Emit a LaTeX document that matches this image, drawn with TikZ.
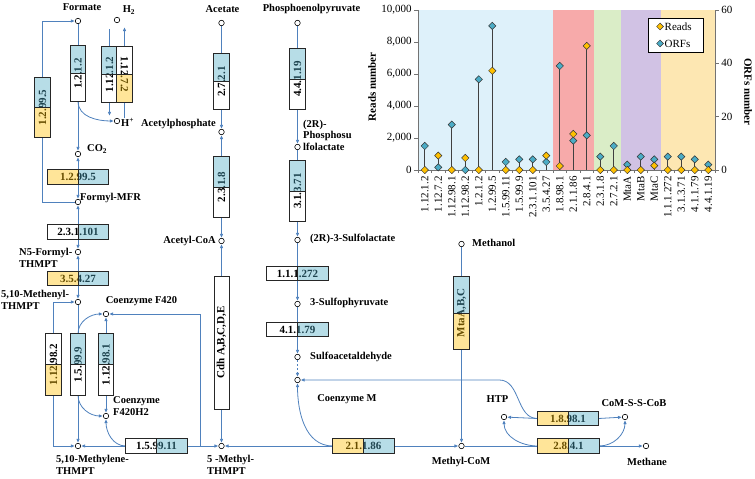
\documentclass[tikz,border=0pt]{standalone}
\usepackage{fontspec}
\setmainfont{Liberation Serif}
\usepackage{tikz}
\usetikzlibrary{arrows.meta, shapes.geometric, calc, positioning, backgrounds}

\definecolor{pathBlue}{RGB}{79,129,189}
\definecolor{enzBlue}{RGB}{75,170,197}
\definecolor{enzYellow}{RGB}{255,192,0}
\definecolor{readGold}{RGB}{255,192,0}
\definecolor{orfTeal}{RGB}{75,172,198}
\definecolor{bandBlue}{RGB}{222,241,250}
\definecolor{bandRed}{RGB}{247,170,170}
\definecolor{bandGreen}{RGB}{218,237,199}
\definecolor{bandPurple}{RGB}{209,194,228}
\definecolor{bandOrange}{RGB}{253,231,178}

\newcommand{\metfont}{\fontsize{10.5}{12.5}\selectfont\bfseries}
\newcommand{\enzfont}{\fontsize{11}{13}\selectfont\bfseries}
\newcommand{\chartfont}{\fontsize{11}{13}\selectfont}

\tikzset{
    met/.style={circle, draw, fill=white, inner sep=0pt, minimum size=5.5pt, line width=0.6pt},
    flow/.style={->, >={Latex[length=4pt, width=3.5pt]}, draw=pathBlue, line width=0.8pt},
    flowBoth/.style={<->, >={Latex[length=4pt, width=3.5pt]}, draw=pathBlue, line width=0.8pt},
    link/.style={draw=pathBlue, line width=0.8pt},
    enzFrame/.style={draw=black!85, line width=0.7pt},
    hShape/.style={rectangle, inner sep=0pt, minimum width=61pt, minimum height=14pt, fill=white, font=\enzfont},
    vShape/.style={rectangle, inner sep=0pt, minimum width=15pt, fill=white},
    blueHalf/.style={fill=enzBlue, fill opacity=0.4},
    yellowHalf/.style={fill=enzYellow, fill opacity=0.4},
    whiteHalf/.style={},
    metLabel/.style={font=\metfont, inner sep=0pt},
    axis/.style={draw=black!55, line width=0.7pt},
    stem/.style={draw=black!75, line width=0.7pt},
    readMark/.style={diamond, draw=black!80, fill=readGold, inner sep=0pt, minimum size=7.5pt, line width=0.5pt},
    orfMark/.style={diamond, draw=black!80, fill=orfTeal, inner sep=0pt, minimum size=7.5pt, line width=0.5pt},
    catLabel/.style={rotate=90, anchor=east, font=\chartfont, inner sep=0pt},
}
% horizontal enzyme box: name, position, label, left half, right half
\newcommand{\enzH}[5]{
    \node[hShape] (#1) at (#2) {#3};
    \path[#4] (#1.south west) rectangle (#1.north);
    \path[#5] (#1.south) rectangle (#1.north east);
    \draw[enzFrame] (#1.south west) rectangle (#1.north east) (#1.south) -- (#1.north);
}
% vertical enzyme box: rotation, name, position, height, label, top half, bottom half
\newcommand{\enzV}[7][90]{
    \node[vShape, minimum height=#4] (#2) at (#3) {};
    \node[font=\enzfont, rotate=#1, inner sep=0pt] (#2text) at (#2) {#5};
    \path[#6] (#2.north west) rectangle (#2.east);
    \path[#7] (#2.west) rectangle (#2.south east);
    \draw[enzFrame] (#2.south west) rectangle (#2.north east) (#2.west) -- (#2.east);
}

\begin{document}
\begin{tikzpicture}[x=1pt, y=1pt]
    \useasboundingbox (0,0) rectangle (755,479);

    % metabolites
    \node[met] (formate) at (78,458) {};
    \node[met] (htwo) at (117,459) {};
    \node[met] (hplus) at (117,358) {};
    \node[met] (co2) at (78,325) {};
    \node[met] (fmfr) at (78,277) {};
    \node[met] (nformyl) at (78,227) {};
    \node[met] (methenyl) at (78,177) {};
    \node[met] (ftwenty) at (106,165) {};
    \node[met] (ftwentyh) at (106,63) {};
    \node[met] (methylene) at (78,33) {};
    \node[met] (methylthmpt) at (221.5,33) {};
    \node[met] (acetate) at (221.5,456) {};
    \node[met] (acetylp) at (221.5,347) {};
    \node[met] (acetylcoa) at (221.5,238) {};
    \node[met] (pep) at (297.5,456) {};
    \node[met] (phosulf) at (297.5,332) {};
    \node[met] (sulfolac) at (297.5,239) {};
    \node[met] (sulfopyr) at (297.5,175) {};
    \node[met] (sulfoald) at (297.5,122) {};
    \node[met] (com) at (297.5,99) {};
    \node[met] (methanol) at (461.5,235) {};
    \node[met] (methylcom) at (461.5,33) {};
    \node[met] (htp) at (504,62) {};
    \node[met] (cosscob) at (625,62) {};
    \node[met] (methane) at (646,33) {};

    % enzymes
    \enzV{b1212}{78,405.5}{55pt}{1.2.1.2}{blueHalf}{whiteHalf}
    \enzV{b11212}{109.5,404.5}{55pt}{1.12.1.2}{blueHalf}{whiteHalf}
    \enzV[-90]{b11272}{124.5,404.5}{55pt}{1.12.7.2}{whiteHalf}{yellowHalf}
    \enzV{b12995v}{42.5,371.5}{59pt}{1.2.99.5}{blueHalf}{yellowHalf}
    \enzH{b12995h}{78,302}{1.2.99.5}{yellowHalf}{blueHalf}
    \enzH{b231101}{78,247}{2.3.1.101}{whiteHalf}{blueHalf}
    \enzH{b35427}{78,200.5}{3.5.4.27}{yellowHalf}{blueHalf}
    \enzV{b112982}{53.5,114.5}{61pt}{1.12.98.2}{whiteHalf}{yellowHalf}
    \enzV{b15999}{78,114.5}{61pt}{1.5.99.9}{blueHalf}{whiteHalf}
    \enzV{b112981}{106,114.5}{61pt}{1.12.98.1}{blueHalf}{whiteHalf}
    \enzH{b159911}{156.5,33}{1.5.99.11}{whiteHalf}{blueHalf}
    \enzV{b2721}{221.5,397.5}{55pt}{2.7.2.1}{blueHalf}{whiteHalf}
    \enzV{b2318}{221.5,292}{60pt}{2.3.1.8}{blueHalf}{whiteHalf}
    \node[vShape, enzFrame, minimum height=133pt] (cdh) at (221.5,136.5) {};
    \node[font=\enzfont, rotate=90, inner sep=0pt] (cdhtext) at (cdh) {Cdh A,B,C,D,E};
    \enzV{b4419}{297.5,400}{60pt}{4.4.1.19}{blueHalf}{whiteHalf}
    \enzV{b31371}{297.5,288}{60pt}{3.1.3.71}{blueHalf}{whiteHalf}
    \enzH{b111272}{297.5,205.5}{1.1.1.272}{whiteHalf}{blueHalf}
    \enzH{b41179}{297.5,149.5}{4.1.1.79}{whiteHalf}{blueHalf}
    \enzH{b21186}{363.5,33}{2.1.1.86}{yellowHalf}{blueHalf}
    \enzV{bmta}{461.5,166}{72pt}{MtaA,B,C}{blueHalf}{yellowHalf}
    \enzH{b18981}{568,60.5}{1.8.98.1}{yellowHalf}{blueHalf}
    \enzH{b2841}{568.5,33}{2.8.4.1}{yellowHalf}{blueHalf}

    % reactions
    \begin{pgfonlayer}{background}
        \draw[flow] (formate) -- (co2);
        \draw[flow] (b1212.south) to[out=-90, in=180] (hplus);
        \draw[flow] ($(b11212 |- htwo.south)+(0,-6)$) -- ($(b11212 |- hplus.north)+(0,2)$);
        \draw[flow] (b11272 |- hplus.north) -- ($(b11272 |- htwo.south)+(0,-4)$);
        \draw[flowBoth] (co2) -- (fmfr);
        \draw[flowBoth] (fmfr) -- (nformyl);
        \draw[flowBoth] (nformyl) -- (methenyl);
        \draw[flow] (fmfr.west) -| (b12995v.center) |- (formate.west);
        \draw[flowBoth] (methenyl.west) -| (b112982.center) |- (methylene.west);
        \draw[flow] (methenyl) -- (methylene);
        \draw[flow] (b15999.north) to[out=90, in=180] (ftwenty);
        \draw[flow] (b15999.south) to[out=-90, in=180] (ftwentyh);
        \draw[flow] (b112981.north) -- (ftwenty);
        \draw[flow] (b112981.south) -- (ftwentyh);
        \draw[flow] (b159911.west) -- (methylene);
        \draw[flow] (b159911.west) to[out=180, in=-90] (ftwentyh);
        \draw[flow] (b159911.east) -- (methylthmpt);
        \draw[flow] (b159911.east) -- ++(13,0) |- (ftwenty);
        \draw[flow] (acetate) -- (acetylp);
        \draw[flowBoth] (acetylp) -- (acetylcoa);
        \draw[flow] (cdh.north) -- (acetylcoa);
        \draw[flow] (cdh.south) -- (methylthmpt);
        \draw[flow] (pep) -- (phosulf);
        \draw[flow] (phosulf) -- (sulfolac);
        \draw[flow] (sulfolac) -- (sulfopyr);
        \draw[flow] (sulfopyr) -- (sulfoald);
        \draw[flow, dash pattern=on 2pt off 2pt] (sulfoald) -- (com);
        \draw[flow] (b21186.west) -- (methylthmpt);
        \draw[flow] (b21186.west) to[out=180, in=-90] (com);
        \draw[flow] (b21186.east) -- (methylcom);
        \draw[flow] (methanol) -- (methylcom);
        \draw[link] (methylcom) -- (b2841.west);
        \draw[flow] (b2841.west) to[out=180, in=-90] (htp);
        \draw[flow] (b2841.east) to[out=0, in=-90] (cosscob);
        \draw[flow] (b2841.east) -- (methane);
        \draw[flow] (b18981.west) -- (htp);
        \draw[flow] (b18981.east) -- (cosscob);
        \draw[flow] (b18981.west) to[out=180, in=0] ($(com -| b18981.west)+(-38,0)$) -- (com);
    \end{pgfonlayer}

    % metabolite names
    \node[metLabel] (lformate) at (82,472) {Formate};
    \node[metLabel] (lhtwo) at (129,469) {H\textsubscript{2}};
    \node[metLabel, anchor=west] (lhplus) at (121,357) {H\textsuperscript{+}};
    \node[metLabel, anchor=east] (lacetylp) at (216,355) {Acetylphosphate};
    \node[metLabel, anchor=west] (lco2) at (87,330) {CO\textsubscript{2}};
    \node[metLabel, anchor=west] (lfmfr) at (80,281) {Formyl-MFR};
    \node[metLabel, anchor=west, align=left] (lnformyl) at (19,221) {N5-Formyl-\\THMPT};
    \node[metLabel, anchor=west, align=left] (lmethenyl) at (1,179) {5,10-Methenyl-\\THMPT};
    \node[metLabel] (lftwenty) at (141.5,178) {Coenzyme F420};
    \node[metLabel, anchor=west, align=left] (lftwentyh) at (113,73) {Coenzyme\\F420H2};
    \node[metLabel, anchor=west, align=left] (lmethylene) at (56,14) {5,10-Methylene-\\THMPT};
    \node[metLabel, anchor=west, align=left] (lmethylthmpt) at (207,14) {5 -Methyl-\\THMPT};
    \node[metLabel] (lacetate) at (222.5,470) {Acetate};
    \node[metLabel, anchor=east] (lacetylcoa) at (216,238) {Acetyl-CoA};
    \node[metLabel] (lpep) at (311.5,470) {Phosphoenolpyruvate};
    \node[metLabel, anchor=west, align=left] (lphosulf) at (303,344) {(2R)-\\[-1pt]Phosphosu\\[-1pt]lfolactate};
    \node[metLabel, anchor=west] (lsulfolac) at (310,240) {(2R)-3-Sulfolactate};
    \node[metLabel, anchor=west] (lsulfopyr) at (310,176) {3-Sulfophyruvate};
    \node[metLabel, anchor=west] (lsulfoald) at (310,122) {Sulfoacetaldehyde};
    \node[metLabel] (lcom) at (347,80) {Coenzyme M};
    \node[metLabel, anchor=west] (lmethanol) at (472,236) {Methanol};
    \node[metLabel] (lmethylcom) at (461,17) {Methyl-CoM};
    \node[metLabel] (lhtp) at (497.5,80) {HTP};
    \node[metLabel] (lcosscob) at (634,76) {CoM-S-S-CoB};
    \node[metLabel] (lmethane) at (647,17) {Methane};

    % chart of reads and ORFs
    \begin{scope}[shift={(418,309)}, x=13.5pt, y=0.016pt]
        \fill[bandBlue] (0,0) rectangle (10,10000);
        \fill[bandRed] (10,0) rectangle (13,10000);
        \fill[bandGreen] (13,0) rectangle (15,10000);
        \fill[bandPurple] (15,0) rectangle (18,10000);
        \fill[bandOrange] (18,0) rectangle (22,10000);
        \draw[axis] (0,10000) -- (0,0) -- (22,0) -- (22,10000);
        \foreach \k in {0,...,22} {
            \draw[axis] (\k,0) -- ++(0,-3pt);
        }
        \foreach \v/\t [count=\j] in {0/0, 2000/{2,000}, 4000/{4,000}, 6000/{6,000}, 8000/{8,000}, 10000/{10,000}} {
            \draw[axis] (0,\v) -- ++(-4pt,0) node[left, font=\chartfont, inner sep=2pt] (readtick\j) {\t};
        }
        \foreach \n in {0,20,40,60} {
            \draw[axis] (22,\n*166.667) -- ++(4pt,0) node[right, font=\chartfont, inner sep=2pt] (orftick\n) {\n};
        }
        \foreach \lab/\rd/\orf [count=\i] in {1.12.1.2/0/9, 1.12.7.2/900/1, 1.12.98.1/0/17, 1.12.98.2/750/0, 1.2.1.2/0/34, 1.2.99.5/6200/54, 1.5.99.11/0/3, 1.5.99.9/0/4, 2.3.1.101/0/4, 3.5.4.27/900/3, 1.8.98.1/250/39, 2.1.1.86/2250/11, 2.8.4.1/7750/13, 2.3.1.8/0/5, 2.7.2.1/0/9, MtaA/0/2, MtaB/0/5, MtaC/270/4, 1.1.1.272/0/5, 3.1.3.71/0/5, 4.1.1.79/0/4, 4.4.1.19/0/2} {
            \pgfmathsetmacro{\stemtop}{max(\rd, \orf*166.667)}
            \draw[stem] (\i-0.5,0) -- (\i-0.5,\stemtop);
            \node[orfMark] (orf\i) at (\i-0.5,\orf*166.667) {};
            \node[readMark] (read\i) at (\i-0.5,\rd) {};
            \node[catLabel] (cat\i) at (\i-0.5,-380) {\lab};
        }
        \node[font=\chartfont\bfseries, rotate=90] (readtitle) at (-3.4,5200) {Reads number};
        \node[font=\chartfont\bfseries, rotate=-90] (orftitle) at (24.45,4875) {ORFs number};
    \end{scope}

    % legend
    \node[draw=black, fill=white, line width=0.6pt, minimum width=55pt, minimum height=34pt] (legendbox) at (675.5,444) {};
    \node[readMark, minimum size=7pt] (legread) at (660,452.5) {};
    \node[orfMark, minimum size=7pt] (legorf) at (660,435.5) {};
    \node[font=\chartfont, anchor=west, inner sep=0pt] (legreadtext) at (664.5,452.5) {Reads};
    \node[font=\chartfont, anchor=west, inner sep=0pt] (legorftext) at (664.5,435.5) {ORFs};
\end{tikzpicture}
\end{document}
